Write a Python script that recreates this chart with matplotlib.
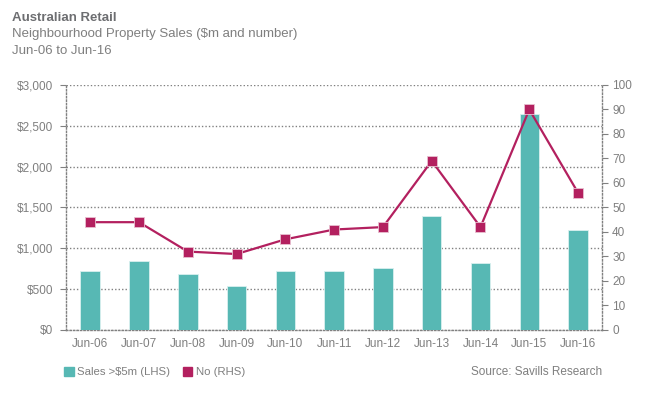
import matplotlib.pyplot as plt
from matplotlib.patches import Patch

plt.rcParams["font.family"] = ["Liberation Sans", "DejaVu Sans"]

categories = ["Jun-06", "Jun-07", "Jun-08", "Jun-09", "Jun-10", "Jun-11",
              "Jun-12", "Jun-13", "Jun-14", "Jun-15", "Jun-16"]
sales_m = [720, 845, 680, 540, 720, 720, 755, 1400, 820, 2640, 1225]
number = [44, 44, 32, 31, 37, 41, 42, 69, 42, 90, 56]
left_ticks = [0, 500, 1000, 1500, 2000, 2500, 3000]
right_ticks = list(range(0, 101, 10))

teal = "#57b8b4"
magenta = "#b3205f"
grey = "#7f7f7f"
grid_c = "#808080"


def main():
    fig = plt.figure(figsize=(6.52, 3.99), dpi=100)
    ax = fig.add_axes([0.101, 0.173, 0.823, 0.614])
    x = list(range(len(categories)))

    ax.bar(x, sales_m, width=0.4, color=teal, edgecolor="#d9f0ef",
           linewidth=0.6, zorder=3)
    ax.set_xlim(-0.5, len(categories) - 0.5)
    ax.set_ylim(0, 3000)
    ax.set_yticks(left_ticks)
    ax.set_yticklabels([f"${v:,}" for v in left_ticks])
    ax.set_xticks(x)
    ax.set_xticklabels(categories)
    ax.grid(axis="y", color=grid_c, linestyle=(0, (1, 1.5)), linewidth=1.0,
            zorder=0)

    for side in ["left", "bottom"]:
        ax.spines[side].set_linestyle((0, (1, 1.5)))
        ax.spines[side].set_color(grid_c)
        ax.spines[side].set_linewidth(1.0)
    ax.spines["top"].set_visible(False)
    ax.spines["right"].set_visible(False)
    ax.tick_params(axis="y", colors=grid_c, labelcolor=grey, labelsize=8.5,
                   length=4, width=0.8, pad=5)
    ax.tick_params(axis="x", length=0, labelcolor=grey, labelsize=8.5, pad=6)

    ax2 = ax.twinx()
    ax2.plot(x, number, color=magenta, linewidth=1.6, marker="s",
             markersize=6.5, markeredgecolor="#e8c0d0", markeredgewidth=0.6,
             zorder=5)
    ax2.set_ylim(0, 100)
    ax2.set_yticks(right_ticks)
    for side in ["left", "bottom", "top"]:
        ax2.spines[side].set_visible(False)
    ax2.spines["right"].set_linestyle((0, (1, 1.5)))
    ax2.spines["right"].set_color(grid_c)
    ax2.spines["right"].set_linewidth(1.0)
    ax2.tick_params(axis="y", colors=grid_c, labelcolor=grey, labelsize=8.5,
                    length=4, width=0.8, pad=3)

    fig.text(0.018, 0.954, "Australian Retail", fontsize=9.5,
             fontweight="bold", color="#6d6e71", va="center")
    fig.text(0.018, 0.914, "Neighbourhood Property Sales ($m and number)",
             fontsize=9.5, color=grey, va="center")
    fig.text(0.018, 0.873, "Jun-06 to Jun-16", fontsize=9.5, color=grey,
             va="center")

    handles = [Patch(color=teal, label="Sales >$5m (LHS)"),
               Patch(color=magenta, label="No (RHS)")]
    leg = fig.legend(handles=handles, loc="center left",
                     bbox_to_anchor=(0.098, 0.068), ncol=2, frameon=False,
                     fontsize=8.2, handlelength=0.85, handleheight=0.85,
                     handletextpad=0.3, columnspacing=1.1,
                     borderaxespad=0, borderpad=0)
    for t in leg.get_texts():
        t.set_color(grey)
    fig.text(0.924, 0.068, "Source: Savills Research", fontsize=8.5,
             color=grey, ha="right", va="center")

    fig.savefig("out.png", dpi=100)
    plt.close(fig)


if __name__ == "__main__":
    main()
